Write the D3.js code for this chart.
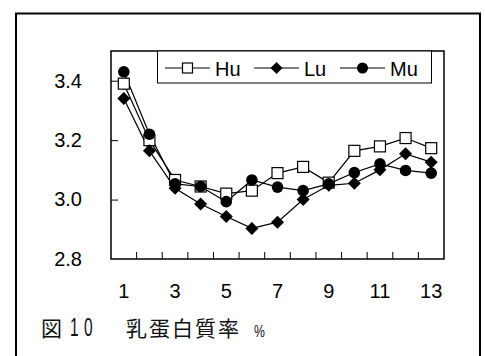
<!DOCTYPE html>
<html>
<head>
<meta charset="utf-8">
<script src="https://cdn.jsdelivr.net/npm/d3@7"></script>
<style>
  html, body { margin: 0; padding: 0; background: #fff; }
  svg { display: block; font-family: "Liberation Sans", Arial, sans-serif; }
</style>
</head>
<body>
<svg id="chart" width="485" height="356"></svg>
<script>
// Months 1..13 on the category axis
const categories = [1, 2, 3, 4, 5, 6, 7, 8, 9, 10, 11, 12, 13];
const tickLabels = ["1", "3", "5", "7", "9", "11", "13"];
const yTicks = [2.8, 3.0, 3.2, 3.4];

// Milk protein rate (%) per group
const seriesNames = ["Hu", "Lu", "Mu"];
const huValues = [3.39, 3.20, 3.066, 3.044, 3.02, 3.03, 3.089, 3.11, 3.057, 3.164, 3.179, 3.207, 3.173];
const luValues = [3.34, 3.164, 3.038, 2.985, 2.943, 2.903, 2.924, 3.0, 3.048, 3.055, 3.10, 3.154, 3.126];
const muValues = [3.43, 3.22, 3.053, 3.044, 2.993, 3.066, 3.042, 3.03, 3.053, 3.091, 3.12, 3.098, 3.089];

const series = [
  { name: seriesNames[0], values: huValues, marker: "square" },
  { name: seriesNames[1], values: luValues, marker: "diamond" },
  { name: seriesNames[2], values: muValues, marker: "circle" }
];

const svg = d3.select("#chart");

// Outer frame (bottom edge runs past the page)
svg.append("rect")
  .attr("x", 16).attr("y", 13.5)
  .attr("width", 464).attr("height", 360)
  .attr("fill", "none").attr("stroke", "#000").attr("stroke-width", 2);

const plot = { left: 111, top: 51, right: 444, bottom: 259 };

const x = d3.scaleBand().domain(categories).range([plot.left, plot.right]);
const y = d3.scaleLinear().domain([2.8, 3.5]).range([plot.bottom, plot.top]);
const cx = d => x(d) + x.bandwidth() / 2;

// Plot frame
svg.append("rect")
  .attr("x", plot.left).attr("y", plot.top)
  .attr("width", plot.right - plot.left).attr("height", plot.bottom - plot.top)
  .attr("fill", "none").attr("stroke", "#000").attr("stroke-width", 1.5);

// Y axis: inward ticks, labels to the left
const yAxis = d3.axisLeft(y).tickValues(yTicks).tickSize(-7).tickPadding(29)
  .tickFormat(d3.format(".1f"));
const yg = svg.append("g").attr("transform", `translate(${plot.left},0)`).call(yAxis);
yg.select(".domain").remove();
yg.selectAll(".tick line").attr("stroke", "#000").attr("stroke-width", 1)
  .filter(d => d === 2.8).remove();
yg.selectAll(".tick text").attr("font-size", 20).attr("fill", "#000")
  .attr("font-family", "Liberation Sans, Arial, sans-serif");

// X axis: tick marks on category boundaries, pointing up
const boundaries = categories.slice(1).map(c => x(c));
svg.append("g").selectAll("line").data(boundaries).join("line")
  .attr("x1", d => d).attr("x2", d => d)
  .attr("y1", plot.bottom).attr("y2", plot.bottom - 7)
  .attr("stroke", "#000").attr("stroke-width", 1);

svg.append("g").selectAll("text").data(tickLabels).join("text")
  .attr("x", d => cx(+d))
  .attr("y", 298)
  .attr("text-anchor", "middle")
  .attr("font-size", 20)
  .text(d => d);

// Markers
function drawMarker(sel, type) {
  if (type === "square") {
    sel.append("rect").attr("x", -5.5).attr("y", -5.5).attr("width", 11).attr("height", 11)
      .attr("fill", "#fff").attr("stroke", "#000").attr("stroke-width", 1.2);
  } else if (type === "diamond") {
    sel.append("path").attr("d", "M0,-6.5L6.5,0L0,6.5L-6.5,0Z").attr("fill", "#000");
  } else {
    sel.append("circle").attr("r", 5.8).attr("fill", "#000");
  }
}

const line = d3.line().x((d, i) => cx(categories[i])).y(d => y(d));

const layer = svg.append("g");
series.forEach(s => {
  layer.append("path").datum(s.values)
    .attr("d", line).attr("fill", "none")
    .attr("stroke", "#000").attr("stroke-width", 1.2);
});
series.forEach(s => {
  layer.append("g").selectAll("g").data(s.values).join("g")
    .attr("transform", (d, i) => `translate(${cx(categories[i])},${y(d)})`)
    .each(function () { drawMarker(d3.select(this), s.marker); });
});

// Legend
const legend = svg.append("g");
legend.append("rect")
  .attr("x", 157.5).attr("y", plot.top).attr("width", 274).attr("height", 32)
  .attr("fill", "#fff").attr("stroke", "#000").attr("stroke-width", 1);
const legendX = [165, 254, 340];
series.forEach((s, i) => {
  const g = legend.append("g").attr("transform", `translate(${legendX[i]},${plot.top + 17})`);
  g.append("line").attr("x1", 0).attr("x2", 45).attr("stroke", "#000").attr("stroke-width", 1.2);
  const m = g.append("g").attr("transform", "translate(22.5,0)");
  if (s.marker === "square") {
    m.append("rect").attr("x", -5).attr("y", -5).attr("width", 10).attr("height", 10)
      .attr("fill", "#fff").attr("stroke", "#000").attr("stroke-width", 1.2);
  } else if (s.marker === "diamond") {
    m.append("path").attr("d", "M0,-6L6,0L0,6L-6,0Z").attr("fill", "#000");
  } else {
    m.append("circle").attr("r", 5.5).attr("fill", "#000");
  }
  g.append("text").attr("x", 50).attr("y", 7.5).attr("font-size", 20).text(s.name);
});

// Caption
const cap = svg.append("g").attr("fill", "#111");
cap.append("text").attr("x", 41).attr("y", 336).attr("font-size", 21)
  .attr("font-family", "Noto Sans CJK JP, sans-serif").text("図");
cap.append("text").attr("transform", "translate(70,336) scale(0.62,1)").attr("font-size", 25)
  .text("1");
cap.append("text").attr("transform", "translate(84,336) scale(0.62,1)").attr("font-size", 25)
  .text("0");
cap.append("text").attr("x", 126).attr("y", 336).attr("font-size", 21)
  .attr("letter-spacing", 2)
  .attr("font-family", "Noto Sans CJK JP, sans-serif").text("乳蛋白質率");
cap.append("text").attr("transform", "translate(254,336.5) scale(0.72,1)").attr("font-size", 17)
  .text("%");
</script>
</body>
</html>
